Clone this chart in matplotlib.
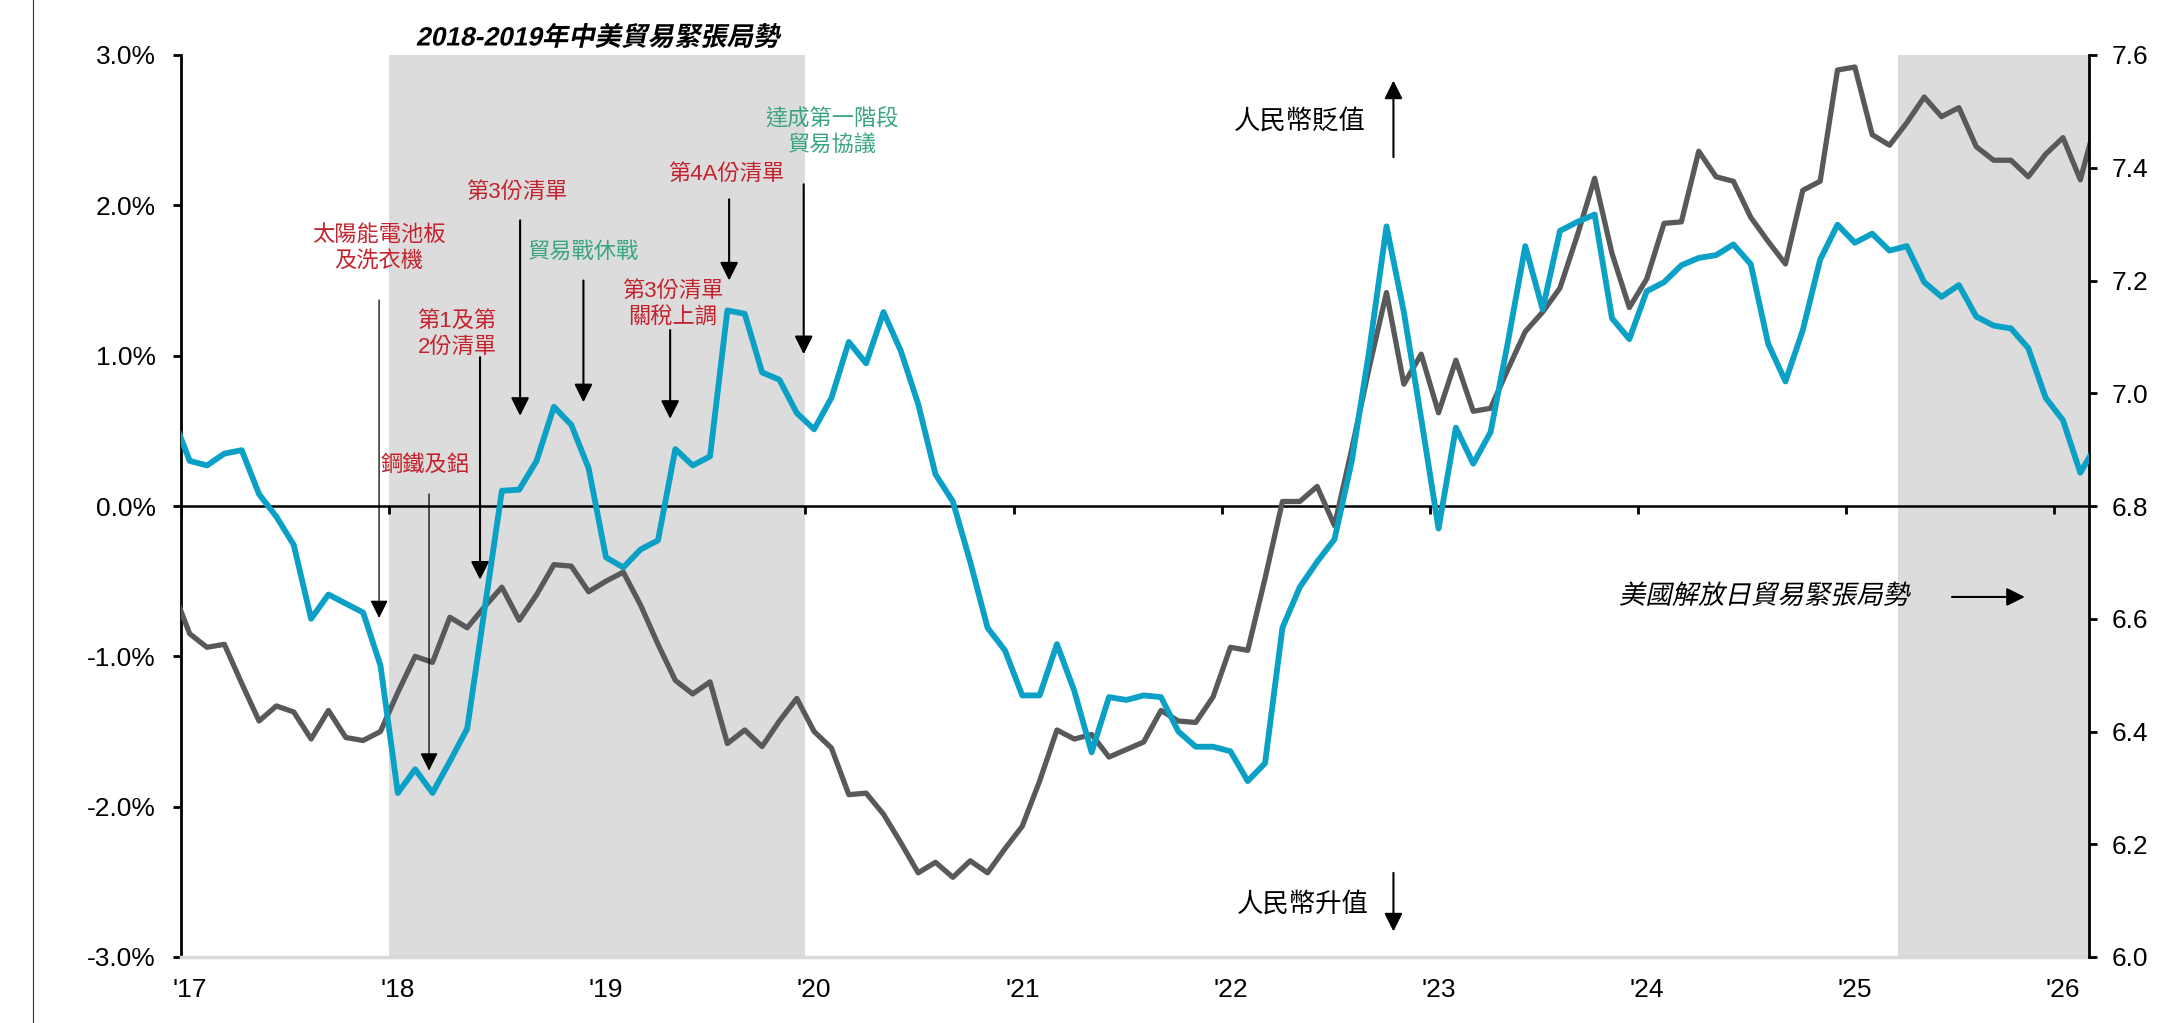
import numpy as np
import matplotlib
matplotlib.use("Agg")
import matplotlib.pyplot as plt
from matplotlib.lines import Line2D
import matplotlib.transforms as mtransforms
from matplotlib.patheffects import AbstractPathEffect

plt.rcParams['font.family'] = ['Liberation Sans', 'Noto Sans CJK TC']

# ---------------- data ----------------
year_labels = ["'17", "'18", "'19", "'20", "'21", "'22", "'23", "'24", "'25", "'26"]

# monthly, Dec 2016 .. Mar 2026 (left axis, %)
gray_pct = [
    -0.55,
    -0.85, -0.94, -0.92, -1.18, -1.43, -1.33, -1.37, -1.55, -1.36, -1.54, -1.56, -1.50,
    -1.24, -1.00, -1.04, -0.74, -0.81, -0.67, -0.54, -0.76, -0.59, -0.39, -0.40, -0.57,
    -0.50, -0.44, -0.66, -0.92, -1.16, -1.25, -1.17, -1.58, -1.49, -1.60, -1.43, -1.28,
    -1.50, -1.61, -1.92, -1.91, -2.05, -2.24, -2.44, -2.37, -2.47, -2.36, -2.44, -2.28,
    -2.13, -1.83, -1.49, -1.55, -1.52, -1.67, -1.62, -1.57, -1.36, -1.43, -1.44, -1.27,
    -0.94, -0.96, -0.48, 0.03, 0.03, 0.13, -0.13, 0.38, 0.92, 1.42, 0.81, 1.01,
    0.62, 0.97, 0.63, 0.65, 0.91, 1.16, 1.29, 1.45, 1.80, 2.18, 1.68, 1.32,
    1.51, 1.88, 1.89, 2.36, 2.19, 2.16, 1.92, 1.76, 1.61, 2.10, 2.16, 2.90,
    2.92, 2.47, 2.40, 2.55, 2.72, 2.59, 2.65, 2.39, 2.30, 2.30, 2.19, 2.34,
    2.45, 2.17, 2.60,
]

# monthly, Dec 2016 .. Mar 2026 (right axis, USD/CNY)
usdcny = [
    6.960,
    6.880, 6.872, 6.893, 6.899, 6.821, 6.781, 6.731, 6.600, 6.643, 6.627, 6.611, 6.517,
    6.291, 6.333, 6.291, 6.347, 6.405, 6.616, 6.827, 6.829, 6.880, 6.976, 6.944, 6.867,
    6.709, 6.691, 6.723, 6.739, 6.901, 6.872, 6.888, 7.147, 7.141, 7.037, 7.024, 6.965,
    6.936, 6.992, 7.091, 7.053, 7.144, 7.075, 6.981, 6.856, 6.808, 6.701, 6.584, 6.544,
    6.464, 6.464, 6.555, 6.472, 6.363, 6.461, 6.456, 6.464, 6.461, 6.400, 6.373, 6.373,
    6.365, 6.312, 6.344, 6.584, 6.656, 6.701, 6.741, 6.880, 7.075, 7.296, 7.144, 6.955,
    6.760, 6.939, 6.875, 6.931, 7.091, 7.261, 7.149, 7.288, 7.304, 7.317, 7.133, 7.096,
    7.181, 7.197, 7.227, 7.240, 7.245, 7.264, 7.229, 7.088, 7.021, 7.112, 7.237, 7.299,
    7.267, 7.283, 7.253, 7.261, 7.197, 7.171, 7.192, 7.136, 7.120, 7.115, 7.080, 6.992,
    6.952, 6.859, 6.912,
]

# shaded periods (months since Jan 2017)
shade_periods = [(12, 36), (99, 110)]

left_ticks = [-3, -2, -1, 0, 1, 2, 3]
right_ticks = [6.0, 6.2, 6.4, 6.6, 6.8, 7.0, 7.2, 7.4, 7.6]

# ---------------- styles ----------------
TEAL = '#0BA0C5'
GRAY = '#58595B'
RED = '#C4232D'
GREEN = '#3AA67E'
SHADE = '#DCDCDC'


class Slant(AbstractPathEffect):
    """Render glyphs with an oblique shear (fake italic for CJK fonts)."""

    def __init__(self, deg=12):
        super().__init__()
        self.shear = mtransforms.Affine2D().skew_deg(deg, 0)

    def draw_path(self, renderer, gc, tpath, affine, rgbFace=None):
        renderer.draw_path(gc, tpath, self.shear + affine, rgbFace)


x = np.arange(len(gray_pct)) - 0.5          # mid-month positions, first = Dec 2016
year_pos = np.arange(len(year_labels)) * 12

fig = plt.figure(figsize=(21.62, 10.23), dpi=100)
ax = fig.add_axes([181 / 2162, 66 / 1023, (2089 - 181) / 2162, 902 / 1023])
ax2 = ax.twinx()

ax.set_xlim(0, 110)
ax.set_ylim(-3, 3)
ax2.set_ylim(6.0, 7.6)

for a, b in shade_periods:
    ax.axvspan(a, b, color=SHADE, lw=0, zorder=0)

ax.axhline(0, color='black', lw=1.8, zorder=2)
ax.plot(year_pos, np.zeros(len(year_pos)), linestyle='none', marker=3,
        markersize=5.5, markeredgewidth=2, color='black', zorder=2)

ax.plot(x, gray_pct, color=GRAY, lw=3.8, solid_joinstyle='round', zorder=3)
ax2.plot(x, usdcny, color=TEAL, lw=4.2, solid_joinstyle='round', zorder=3)

# spines
ax.spines['top'].set_visible(False)
ax.spines['right'].set_visible(False)
ax.spines['left'].set_linewidth(2)
ax.spines['bottom'].set_color('#D9D9D9')
ax.spines['bottom'].set_linewidth(2.5)
for s in ['top', 'left', 'bottom']:
    ax2.spines[s].set_visible(False)
ax2.spines['right'].set_linewidth(2)

ax.set_yticks(left_ticks)
ax.set_yticklabels([f'{v:.1f}%' for v in left_ticks])
ax.tick_params(axis='y', length=6, width=2, pad=12, labelsize=19, direction='out')
ax.set_xticks(year_pos + 0.5)
ax.set_xticklabels(year_labels)
ax.tick_params(axis='x', length=0, pad=15, labelsize=19)

ax2.set_yticks(right_ticks)
ax2.set_yticklabels([f'{v:.1f}' for v in right_ticks])
ax2.tick_params(axis='y', length=6, width=2, pad=10.5, labelsize=19, direction='out')

# ---------------- annotations ----------------
T = ax.transData
CJK = ['Liberation Sans', 'Noto Sans CJK TC']


def note(xx, yy, s, color, size=16, ha='center', slant=False, **kw):
    t = ax2.text(xx, yy, s, transform=T, color=color, fontsize=size, ha=ha,
                 va='center', multialignment='center', linespacing=1.3,
                 family=CJK, zorder=6, **kw)
    if slant:
        t.set_path_effects([Slant(12)])
    return t


def arrow(x0, y0, x1, y1, lw=1.5):
    ax2.annotate('', xy=(x1, y1), xytext=(x0, y0), xycoords=T, textcoords=T,
                 arrowprops=dict(arrowstyle='-|>,head_length=0.5,head_width=0.25',
                                 color='black', lw=lw, mutation_scale=22,
                                 shrinkA=0, shrinkB=0), zorder=6)


note(11.42, 1.715, '太陽能電池板\n及洗衣機', RED)
arrow(11.42, 1.37, 11.42, -0.745, lw=0.9)

note(14.07, 0.27, '鋼鐵及鋁', RED)
arrow(14.3, 0.08, 14.3, -1.76, lw=0.9)

note(15.92, 1.145, '第1及第\n2份清單', RED)
arrow(17.24, 0.99, 17.24, -0.49)

note(19.38, 2.08, '第3份清單', RED)
arrow(19.55, 1.90, 19.55, 0.60)

note(23.2, 1.69, '貿易戰休戰', GREEN)
arrow(23.2, 1.50, 23.2, 0.69)

note(28.37, 1.335, '第3份清單\n關稅上調', RED)
arrow(28.2, 1.17, 28.2, 0.58)

note(31.43, 2.20, '第4A份清單', RED)
arrow(31.6, 2.04, 31.6, 1.50)

note(37.54, 2.485, '達成第一階段\n貿易協議', GREEN)
arrow(35.9, 2.14, 35.9, 1.01)

note(68.3, 2.56, '人民幣貶值', 'black', size=19, ha='right')
arrow(69.9, 2.32, 69.9, 2.83)

note(68.5, -2.65, '人民幣升值', 'black', size=19, ha='right')
arrow(69.9, -2.44, 69.9, -2.83)

note(82.9, -0.60, '美國解放日貿易緊張局勢', 'black', size=19, ha='left', slant=True)
arrow(102.1, -0.605, 106.3, -0.605)

# title over the first shaded period
title_tr = mtransforms.blended_transform_factory(ax.transData, ax.transAxes)
title = ax2.text(24, 1.019, '2018-2019年中美貿易緊張局勢', transform=title_tr,
                 ha='center', va='center', fontsize=19, fontweight='bold',
                 family=CJK, clip_on=False)
title.set_path_effects([Slant(12)])

# thin frame line at far left
fig.add_artist(Line2D([32.5 / 2162, 32.5 / 2162], [0, 1], transform=fig.transFigure,
                      color='#333333', lw=0.8))

fig.savefig('out.png', dpi=100)
